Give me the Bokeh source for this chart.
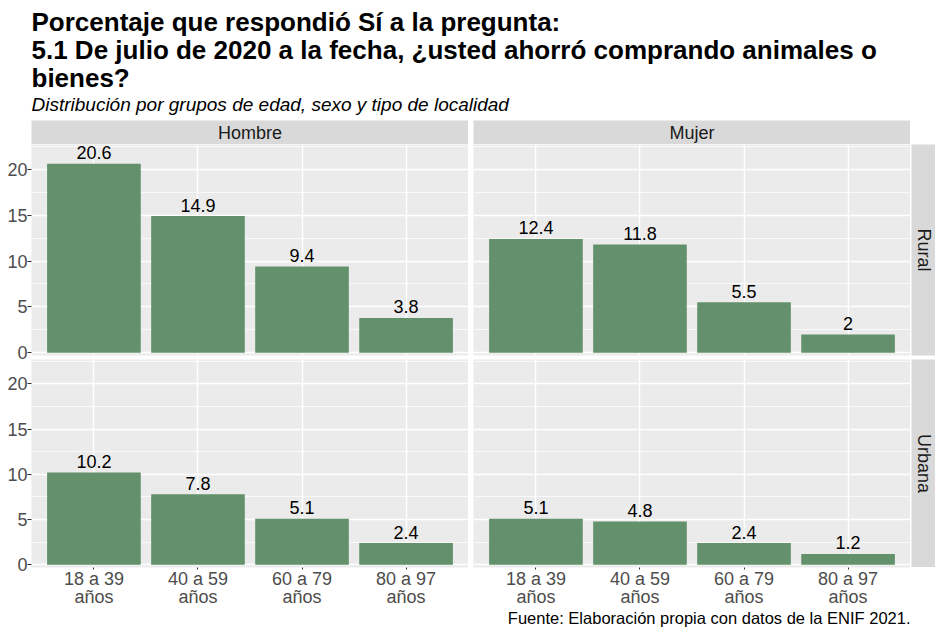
import math
from bokeh.plotting import figure
from bokeh.layouts import column, row
from bokeh.models import Range1d, FactorRange, FixedTicker, Spacer, ColumnDataSource
from bokeh.core.properties import value
from bokeh.embed import file_html
from bokeh.resources import INLINE

# ---------------- data ----------------
title_lines = [
    "Porcentaje que respondió Sí a la pregunta:",
    "5.1 De julio de 2020 a la fecha, ¿usted ahorró comprando animales o",
    "bienes?",
]
subtitle = "Distribución por grupos de edad, sexo y tipo de localidad"
caption = "Fuente: Elaboración propia con datos de la ENIF 2021."
age_groups = ["18 a 39\naños", "40 a 59\naños", "60 a 79\naños", "80 a 97\naños"]
sexes = ["Hombre", "Mujer"]
localities = ["Rural", "Urbana"]
hombre_rural = [20.6, 14.9, 9.4, 3.8]
mujer_rural = [12.4, 11.8, 5.5, 2.0]
hombre_urbana = [10.2, 7.8, 5.1, 2.4]
mujer_urbana = [5.1, 4.8, 2.4, 1.2]
y_ticks = [0, 5, 10, 15, 20]
y_minor = [2.5, 7.5, 12.5, 17.5, 22.5]

# ---------------- style / layout ----------------
FONT = "Liberation Sans"
BAR = "#62916C"
PANEL_BG = "#EBEBEB"
STRIP_BG = "#D9D9D9"
LEFT = 31          # left margin before first panel (holds y axis)
FW = 437           # panel width
GAP = 5            # gap between columns
STRIP_W = 24
HEADER_H = 120
STRIP_H = 24
FH_TOP = 211
ROW_GAP = 4
FH_BOT = 208
AXIS_B = 42
FOOT_H = 18
TOTAL_W = LEFT + FW + GAP + FW + 1 + STRIP_W
Y_LO, Y_HI = -0.3, 22.7


def panel(vals, left, show_y, show_x, fh, bottom_border):
    p = figure(
        x_range=FactorRange(factors=age_groups, range_padding=0.1, range_padding_units="absolute"),
        y_range=Range1d(Y_LO, Y_HI),
        frame_width=FW, frame_height=fh,
        output_backend="svg", toolbar_location=None,
        min_border=0, min_border_left=left, min_border_right=0,
        min_border_top=0, min_border_bottom=bottom_border,
    )
    src = ColumnDataSource(dict(cat=age_groups, val=vals, lab=[f"{v:g}" for v in vals]))
    p.vbar(x="cat", top="val", width=0.9, source=src, fill_color=BAR, line_color=None)
    p.text(x="cat", y="val", text="lab", source=src, text_align="center",
           text_baseline="middle", y_offset=-11, text_font=value(FONT),
           text_font_size="18px", text_color="black")
    p.background_fill_color = PANEL_BG
    p.border_fill_color = "white"
    p.outline_line_color = None

    p.yaxis.ticker = FixedTicker(ticks=y_ticks, minor_ticks=y_minor)
    p.yaxis.major_label_text_font = FONT
    p.yaxis.major_label_text_font_size = "18px"
    p.yaxis.major_label_text_color = "#4D4D4D"
    p.yaxis.axis_line_color = None
    p.yaxis.major_tick_in = 0
    p.yaxis.major_tick_out = 4
    p.yaxis.major_tick_line_color = "#333333"
    p.yaxis.minor_tick_line_color = None
    p.yaxis.major_label_standoff = 0
    p.yaxis.visible = show_y

    p.xaxis.major_label_text_font = FONT
    p.xaxis.major_label_text_font_size = "18px"
    p.xaxis.major_label_text_color = "#4D4D4D"
    p.xaxis.major_label_text_line_height = 0.9
    p.xaxis.axis_line_color = None
    p.xaxis.major_tick_in = 0
    p.xaxis.major_tick_out = 2
    p.xaxis.major_tick_line_color = "#333333"
    p.xaxis.major_label_standoff = -1
    p.xaxis.visible = show_x

    p.xgrid.grid_line_color = "white"
    p.xgrid.grid_line_width = 1.4
    p.ygrid.grid_line_color = "white"
    p.ygrid.grid_line_width = 1.4
    p.ygrid.minor_grid_line_color = "white"
    p.ygrid.minor_grid_line_width = 0.7
    return p


def hstrip(label, left):
    s = figure(x_range=Range1d(0, 1), y_range=Range1d(0, 1),
               frame_width=FW, frame_height=STRIP_H, output_backend="svg",
               toolbar_location=None, x_axis_type=None, y_axis_type=None,
               min_border=0, min_border_left=left)
    s.background_fill_color = STRIP_BG
    s.border_fill_color = "white"
    s.outline_line_color = None
    s.grid.visible = False
    s.text(x=[0.5], y=[0.5], text=[label], text_align="center", text_baseline="middle",
           text_font=value(FONT), text_font_size="18px", text_color="#1A1A1A")
    return s


def vstrip(label, fh, bottom):
    s = figure(x_range=Range1d(0, 1), y_range=Range1d(0, 1),
               frame_width=STRIP_W, frame_height=fh, output_backend="svg",
               toolbar_location=None, x_axis_type=None, y_axis_type=None,
               min_border=0, min_border_left=1, min_border_bottom=bottom)
    s.background_fill_color = STRIP_BG
    s.border_fill_color = "white"
    s.outline_line_color = None
    s.grid.visible = False
    s.text(x=[0.5], y=[0.5], text=[label], angle=-math.pi / 2, text_align="center",
           text_baseline="middle", text_font=value(FONT), text_font_size="18px",
           text_color="#1A1A1A")
    return s


# header (title + subtitle)
header = figure(x_range=Range1d(0, TOTAL_W), y_range=Range1d(HEADER_H, 0),
                frame_width=TOTAL_W, frame_height=HEADER_H, output_backend="svg",
                toolbar_location=None, x_axis_type=None, y_axis_type=None, min_border=0)
header.outline_line_color = None
header.grid.visible = False
header.text(x=[LEFT] * 3, y=[21, 49, 77], text=title_lines, text_baseline="middle",
            text_font=value(FONT), text_font_size="26px", text_font_style="bold",
            text_color="black")
header.text(x=[LEFT], y=[103.5], text=[subtitle], text_baseline="middle",
            text_font=value(FONT), text_font_size="19px", text_font_style="italic",
            text_color="black")

p_hr = panel(hombre_rural, LEFT, True, False, FH_TOP, ROW_GAP)
p_hu = panel(hombre_urbana, LEFT, True, True, FH_BOT, AXIS_B)
p_mr = panel(mujer_rural, GAP, False, False, FH_TOP, ROW_GAP)
p_mu = panel(mujer_urbana, GAP, False, True, FH_BOT, AXIS_B)

left_col = column(hstrip(sexes[0], LEFT), p_hr, p_hu)
right_col = column(hstrip(sexes[1], GAP), p_mr, p_mu)
strip_col = column(Spacer(width=1 + STRIP_W, height=STRIP_H),
                   vstrip(localities[0], FH_TOP, ROW_GAP),
                   vstrip(localities[1], FH_BOT, 0))

# footer (caption)
footer = figure(x_range=Range1d(0, TOTAL_W), y_range=Range1d(FOOT_H, 0),
                frame_width=TOTAL_W, frame_height=FOOT_H, output_backend="svg",
                toolbar_location=None, x_axis_type=None, y_axis_type=None, min_border=0)
footer.outline_line_color = None
footer.grid.visible = False
footer.text(x=[LEFT + FW + GAP + FW], y=[8.5], text=[caption], text_align="right",
            text_baseline="middle", text_font=value(FONT), text_font_size="16.5px",
            text_color="black")

layout = column(header, row(left_col, right_col, strip_col), footer)

open("out.html", "w").write(file_html(layout, INLINE))
